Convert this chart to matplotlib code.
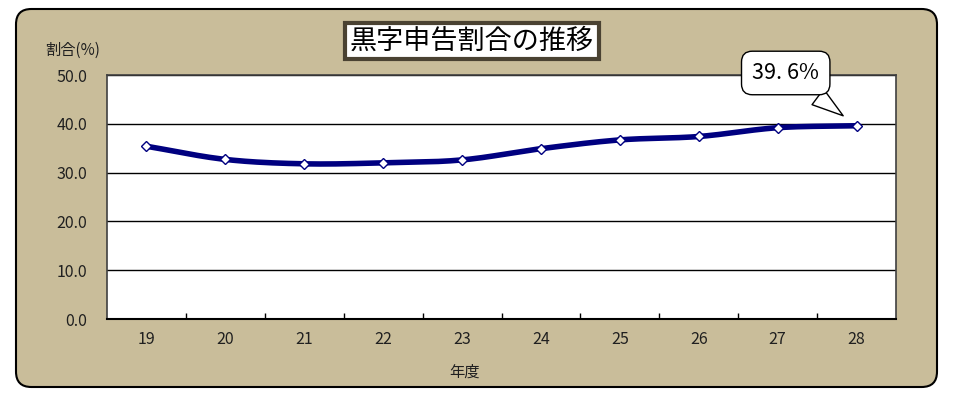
import numpy as np
import matplotlib
matplotlib.use("Agg")
import matplotlib.pyplot as plt
from matplotlib.patches import FancyBboxPatch

plt.rcParams['font.family'] = ['Noto Sans CJK JP', 'DejaVu Sans']

years = ['19', '20', '21', '22', '23', '24', '25', '26', '27', '28']
ratio = [35.4, 32.7, 31.8, 32.0, 32.6, 34.9, 36.7, 37.4, 39.2, 39.6]
y_ticks = [0, 10, 20, 30, 40, 50]

title = '黒字申告割合の推移'
y_label = '割合(%)'
x_label = '年度'
callout = '39. 6%'

bg = '#c9bd9a'
navy = '#000080'


def smooth(x, y, n=20):
    # Catmull-Rom curve through the points, similar to Excel smoothed lines
    x = np.asarray(x, float)
    y = np.asarray(y, float)
    px = np.concatenate([[2 * x[0] - x[1]], x, [2 * x[-1] - x[-2]]])
    py = np.concatenate([[2 * y[0] - y[1]], y, [2 * y[-1] - y[-2]]])
    xs, ys = [], []
    t = np.linspace(0, 1, n, endpoint=False)
    for i in range(1, len(px) - 2):
        for p, out in ((px, xs), (py, ys)):
            p0, p1, p2, p3 = p[i - 1], p[i], p[i + 1], p[i + 2]
            out.extend(0.5 * (2 * p1 + (-p0 + p2) * t
                              + (2 * p0 - 5 * p1 + 4 * p2 - p3) * t ** 2
                              + (-p0 + 3 * p1 - 3 * p2 + p3) * t ** 3))
    xs.append(x[-1])
    ys.append(y[-1])
    return np.array(xs), np.array(ys)


fig = plt.figure(figsize=(9.59, 3.96), dpi=100)
fig.patch.set_facecolor('white')

frame = FancyBboxPatch((16 / 959, 9 / 396), 921 / 959, 378 / 396,
                       boxstyle='round,pad=0,rounding_size=0.016',
                       transform=fig.transFigure, facecolor=bg,
                       edgecolor='black', linewidth=1.5, zorder=-1,
                       mutation_aspect=959 / 396)
fig.patches.append(frame)

ax = fig.add_axes([107 / 959, 1 - 319 / 396, 789 / 959, 244 / 396])
ax.set_zorder(2)
ax.set_facecolor('white')

x = np.arange(len(years))
sx, sy = smooth(x, ratio)
ax.plot(sx, sy, color=navy, linewidth=4, solid_capstyle='round', zorder=3)
ax.plot(x, ratio, linestyle='none', marker='D', markersize=5,
        markerfacecolor='white', markeredgecolor=navy, markeredgewidth=1,
        zorder=4)

ax.set_xlim(-0.5, len(years) - 0.5)
ax.set_ylim(0, 50)
ax.set_yticks(y_ticks)
ax.set_yticklabels([f'{v:.1f}' for v in y_ticks])
ax.yaxis.grid(True, color='black', linewidth=1)
ax.set_axisbelow(True)
ax.tick_params(axis='y', length=0, pad=14, labelsize=11.5, colors='#202020')

ax.set_xticks(x)
ax.set_xticklabels(years)
ax.set_xticks(x[:-1] + 0.5, minor=True)
ax.tick_params(axis='x', which='major', length=0, pad=9, labelsize=11.5,
               colors='#202020')
ax.tick_params(axis='x', which='minor', direction='in', length=4,
               color='black', width=1)

for side in ['top', 'right', 'left']:
    ax.spines[side].set_color('#404040')
    ax.spines[side].set_linewidth(1.2)
ax.spines['bottom'].set_color('black')
ax.spines['bottom'].set_linewidth(1.5)

fig.text(472 / 959, 1 - 41 / 396, title, ha='center', va='center',
         fontsize=19.5, color='black',
         bbox=dict(boxstyle='square,pad=0.18', facecolor='white',
                   edgecolor='#4a4232', linewidth=3))
fig.text(73 / 959, 1 - 50 / 396, y_label, ha='center', va='center',
         fontsize=11, color='#202020')
fig.text(464 / 959, 1 - 372 / 396, x_label, ha='center', va='center',
         fontsize=11, color='#202020')

ax.annotate(callout, xy=(x[-1], ratio[-1]), xytext=(-51, 38),
            textcoords='offset points', ha='center', va='center',
            fontsize=15.5, color='black', zorder=6, annotation_clip=False,
            bbox=dict(boxstyle='round,pad=0.5,rounding_size=0.5',
                      facecolor='white', edgecolor='black', linewidth=1),
            arrowprops=dict(arrowstyle='wedge,tail_width=0.9,shrink_factor=0.5',
                            facecolor='white', edgecolor='black',
                            linewidth=1, shrinkB=12))

fig.savefig('out.png', dpi=100, facecolor=fig.get_facecolor())
